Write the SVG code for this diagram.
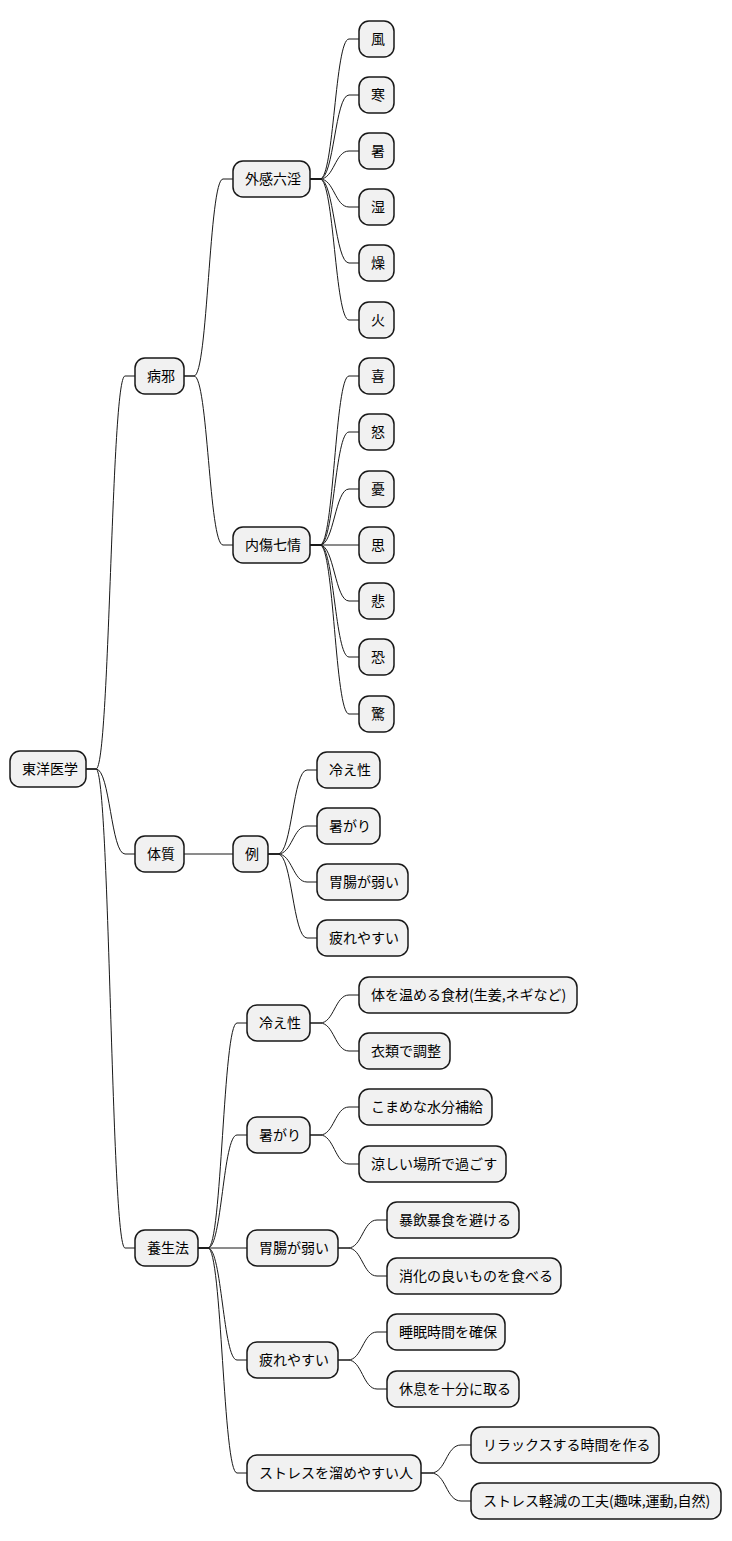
<svg xmlns="http://www.w3.org/2000/svg" width="732" height="1541" viewBox="0 0 732 1541">
<style>
rect{fill:#f1f1f1;stroke:#181818;stroke-width:1.5}
text{font-family:"Noto Sans CJK JP","Noto Sans",sans-serif;font-size:14px;fill:#000}
#edges path{fill:none;stroke:#181818;stroke-width:1}
</style>
<g id="edges">
<path d="M86 769H96C110 769 111 376 125 376H135"/>
<path d="M86 769H96C110 769 111 854 125 854H135"/>
<path d="M86 769H96C110 769 111 1248 125 1248H135"/>
<path d="M184 376H194C208 376 209 179 223 179H233"/>
<path d="M184 376H194C208 376 209 545 223 545H233"/>
<path d="M310 179H320C334 179 335 39 349 39H359"/>
<path d="M310 179H320C334 179 335 95 349 95H359"/>
<path d="M310 179H320C334 179 335 151 349 151H359"/>
<path d="M310 179H320C334 179 335 207 349 207H359"/>
<path d="M310 179H320C334 179 335 263 349 263H359"/>
<path d="M310 179H320C334 179 335 320 349 320H359"/>
<path d="M310 545H320C334 545 335 376 349 376H359"/>
<path d="M310 545H320C334 545 335 432 349 432H359"/>
<path d="M310 545H320C334 545 335 489 349 489H359"/>
<path d="M310 545H359"/>
<path d="M310 545H320C334 545 335 601 349 601H359"/>
<path d="M310 545H320C334 545 335 657 349 657H359"/>
<path d="M310 545H320C334 545 335 714 349 714H359"/>
<path d="M184 854H233"/>
<path d="M268 854H278C292 854 293 770 307 770H317"/>
<path d="M268 854H278C292 854 293 826 307 826H317"/>
<path d="M268 854H278C292 854 293 882 307 882H317"/>
<path d="M268 854H278C292 854 293 938 307 938H317"/>
<path d="M198 1248H208C222 1248 223 1023 237 1023H247"/>
<path d="M198 1248H208C222 1248 223 1135 237 1135H247"/>
<path d="M198 1248H247"/>
<path d="M198 1248H208C222 1248 223 1360 237 1360H247"/>
<path d="M198 1248H208C222 1248 223 1473 237 1473H247"/>
<path d="M310 1023H320C334 1023 335 995 349 995H359"/>
<path d="M310 1023H320C334 1023 335 1051 349 1051H359"/>
<path d="M310 1135H320C334 1135 335 1107 349 1107H359"/>
<path d="M310 1135H320C334 1135 335 1164 349 1164H359"/>
<path d="M338 1248H348C362 1248 363 1220 377 1220H387"/>
<path d="M338 1248H348C362 1248 363 1276 377 1276H387"/>
<path d="M338 1360H348C362 1360 363 1332 377 1332H387"/>
<path d="M338 1360H348C362 1360 363 1389 377 1389H387"/>
<path d="M421 1473H431C446 1473 446 1445 461 1445H471"/>
<path d="M421 1473H431C446 1473 446 1501 461 1501H471"/>
</g>
<g id="n0"><rect x="10" y="751" width="76" height="36" rx="10"/><text x="22" y="774">東洋医学</text></g>
<g id="n1"><rect x="135" y="358" width="49" height="36" rx="10"/><text x="147" y="381">病邪</text></g>
<g id="n2"><rect x="135" y="836" width="49" height="36" rx="10"/><text x="147" y="859">体質</text></g>
<g id="n3"><rect x="135" y="1230" width="63" height="36" rx="10"/><text x="147" y="1253">養生法</text></g>
<g id="n4"><rect x="233" y="161" width="77" height="36" rx="10"/><text x="245" y="184">外感六淫</text></g>
<g id="n5"><rect x="233" y="527" width="77" height="36" rx="10"/><text x="245" y="550">内傷七情</text></g>
<g id="n6"><rect x="359" y="21" width="35" height="36" rx="10"/><text x="371" y="44">風</text></g>
<g id="n7"><rect x="359" y="77" width="35" height="36" rx="10"/><text x="371" y="100">寒</text></g>
<g id="n8"><rect x="359" y="133" width="35" height="36" rx="10"/><text x="371" y="156">暑</text></g>
<g id="n9"><rect x="359" y="189" width="35" height="36" rx="10"/><text x="371" y="212">湿</text></g>
<g id="n10"><rect x="359" y="245" width="35" height="36" rx="10"/><text x="371" y="268">燥</text></g>
<g id="n11"><rect x="359" y="302" width="35" height="36" rx="10"/><text x="371" y="325">火</text></g>
<g id="n12"><rect x="359" y="358" width="35" height="36" rx="10"/><text x="371" y="381">喜</text></g>
<g id="n13"><rect x="359" y="414" width="35" height="36" rx="10"/><text x="371" y="437">怒</text></g>
<g id="n14"><rect x="359" y="471" width="35" height="36" rx="10"/><text x="371" y="494">憂</text></g>
<g id="n15"><rect x="359" y="527" width="35" height="36" rx="10"/><text x="371" y="550">思</text></g>
<g id="n16"><rect x="359" y="583" width="35" height="36" rx="10"/><text x="371" y="606">悲</text></g>
<g id="n17"><rect x="359" y="639" width="35" height="36" rx="10"/><text x="371" y="662">恐</text></g>
<g id="n18"><rect x="359" y="696" width="35" height="36" rx="10"/><text x="371" y="719">驚</text></g>
<g id="n19"><rect x="233" y="836" width="35" height="36" rx="10"/><text x="245" y="859">例</text></g>
<g id="n20"><rect x="317" y="752" width="63" height="36" rx="10"/><text x="329" y="775">冷え性</text></g>
<g id="n21"><rect x="317" y="808" width="63" height="36" rx="10"/><text x="329" y="831">暑がり</text></g>
<g id="n22"><rect x="317" y="864" width="91" height="36" rx="10"/><text x="329" y="887">胃腸が弱い</text></g>
<g id="n23"><rect x="317" y="920" width="91" height="36" rx="10"/><text x="329" y="943">疲れやすい</text></g>
<g id="n24"><rect x="247" y="1005" width="63" height="36" rx="10"/><text x="259" y="1028">冷え性</text></g>
<g id="n25"><rect x="247" y="1117" width="63" height="36" rx="10"/><text x="259" y="1140">暑がり</text></g>
<g id="n26"><rect x="247" y="1230" width="91" height="36" rx="10"/><text x="259" y="1253">胃腸が弱い</text></g>
<g id="n27"><rect x="247" y="1342" width="91" height="36" rx="10"/><text x="259" y="1365">疲れやすい</text></g>
<g id="n28"><rect x="247" y="1455" width="174" height="36" rx="10"/><text x="259" y="1478">ストレスを溜めやすい人</text></g>
<g id="n29"><rect x="359" y="977" width="218" height="36" rx="10"/><text x="371" y="1000">体を温める食材(生姜,ネギなど)</text></g>
<g id="n30"><rect x="359" y="1033" width="91" height="36" rx="10"/><text x="371" y="1056">衣類で調整</text></g>
<g id="n31"><rect x="359" y="1089" width="133" height="36" rx="10"/><text x="371" y="1112">こまめな水分補給</text></g>
<g id="n32"><rect x="359" y="1146" width="147" height="36" rx="10"/><text x="371" y="1169">涼しい場所で過ごす</text></g>
<g id="n33"><rect x="387" y="1202" width="132" height="36" rx="10"/><text x="399" y="1225">暴飲暴食を避ける</text></g>
<g id="n34"><rect x="387" y="1258" width="174" height="36" rx="10"/><text x="399" y="1281">消化の良いものを食べる</text></g>
<g id="n35"><rect x="387" y="1314" width="118" height="36" rx="10"/><text x="399" y="1337">睡眠時間を確保</text></g>
<g id="n36"><rect x="387" y="1371" width="132" height="36" rx="10"/><text x="399" y="1394">休息を十分に取る</text></g>
<g id="n37"><rect x="471" y="1427" width="188" height="36" rx="10"/><text x="483" y="1450">リラックスする時間を作る</text></g>
<g id="n38"><rect x="471" y="1483" width="250" height="36" rx="10"/><text x="483" y="1506">ストレス軽減の工夫(趣味,運動,自然)</text></g>
</svg>
